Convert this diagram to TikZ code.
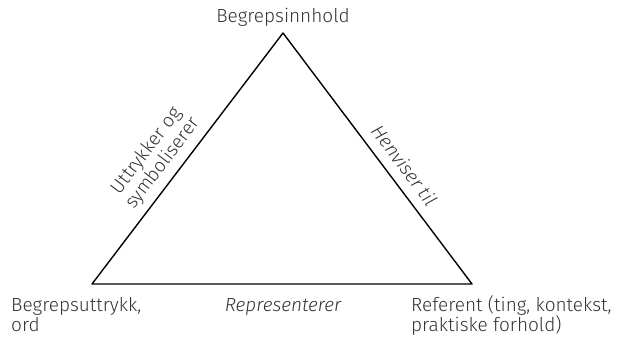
\documentclass[tikz,border=0pt]{standalone}
\usepackage{fontspec}
\setmainfont{Fira Sans Light}[ItalicFont={Fira Sans Light Italic}]
\definecolor{txtgray}{HTML}{333333}
\begin{document}
\begin{tikzpicture}[x=1pt,y=-1pt,line join=round,line cap=round]
	\tikzset{label style/.style={font=\fontsize{19}{20.5}\selectfont,text=txtgray,inner sep=0pt},
		side style/.style={label style,sloped,inner sep=4pt}}
	\useasboundingbox (0,0) rectangle (620,340);
	\coordinate (inhold) at (283,33);
	\coordinate (uttrykk) at (92,284);
	\coordinate (referent) at (472,284);
	\draw[line width=1.4pt] (uttrykk)
		-- node[side style,above=3pt,pos=.44,align=center] (symbol) {Uttrykker og\\symboliserer} (inhold)
		-- node[side style,above=6pt,pos=.57] (henviser) {\itshape Henviser til} (referent)
		-- cycle;
	\node[label style,anchor=base] (topp) at (283,22) {Begrepsinnhold};
	\node[label style,anchor=base west,align=left] (venstre) at (11,331.5) {Begrepsuttrykk,\\ord};
	\node[label style,anchor=base] (midt) at (283,311) {\itshape Representerer};
	\node[label style,anchor=base west,align=left] (hoyre) at (411,331.5) {Referent (ting, kontekst,\\praktiske forhold)};
\end{tikzpicture}
\end{document}
